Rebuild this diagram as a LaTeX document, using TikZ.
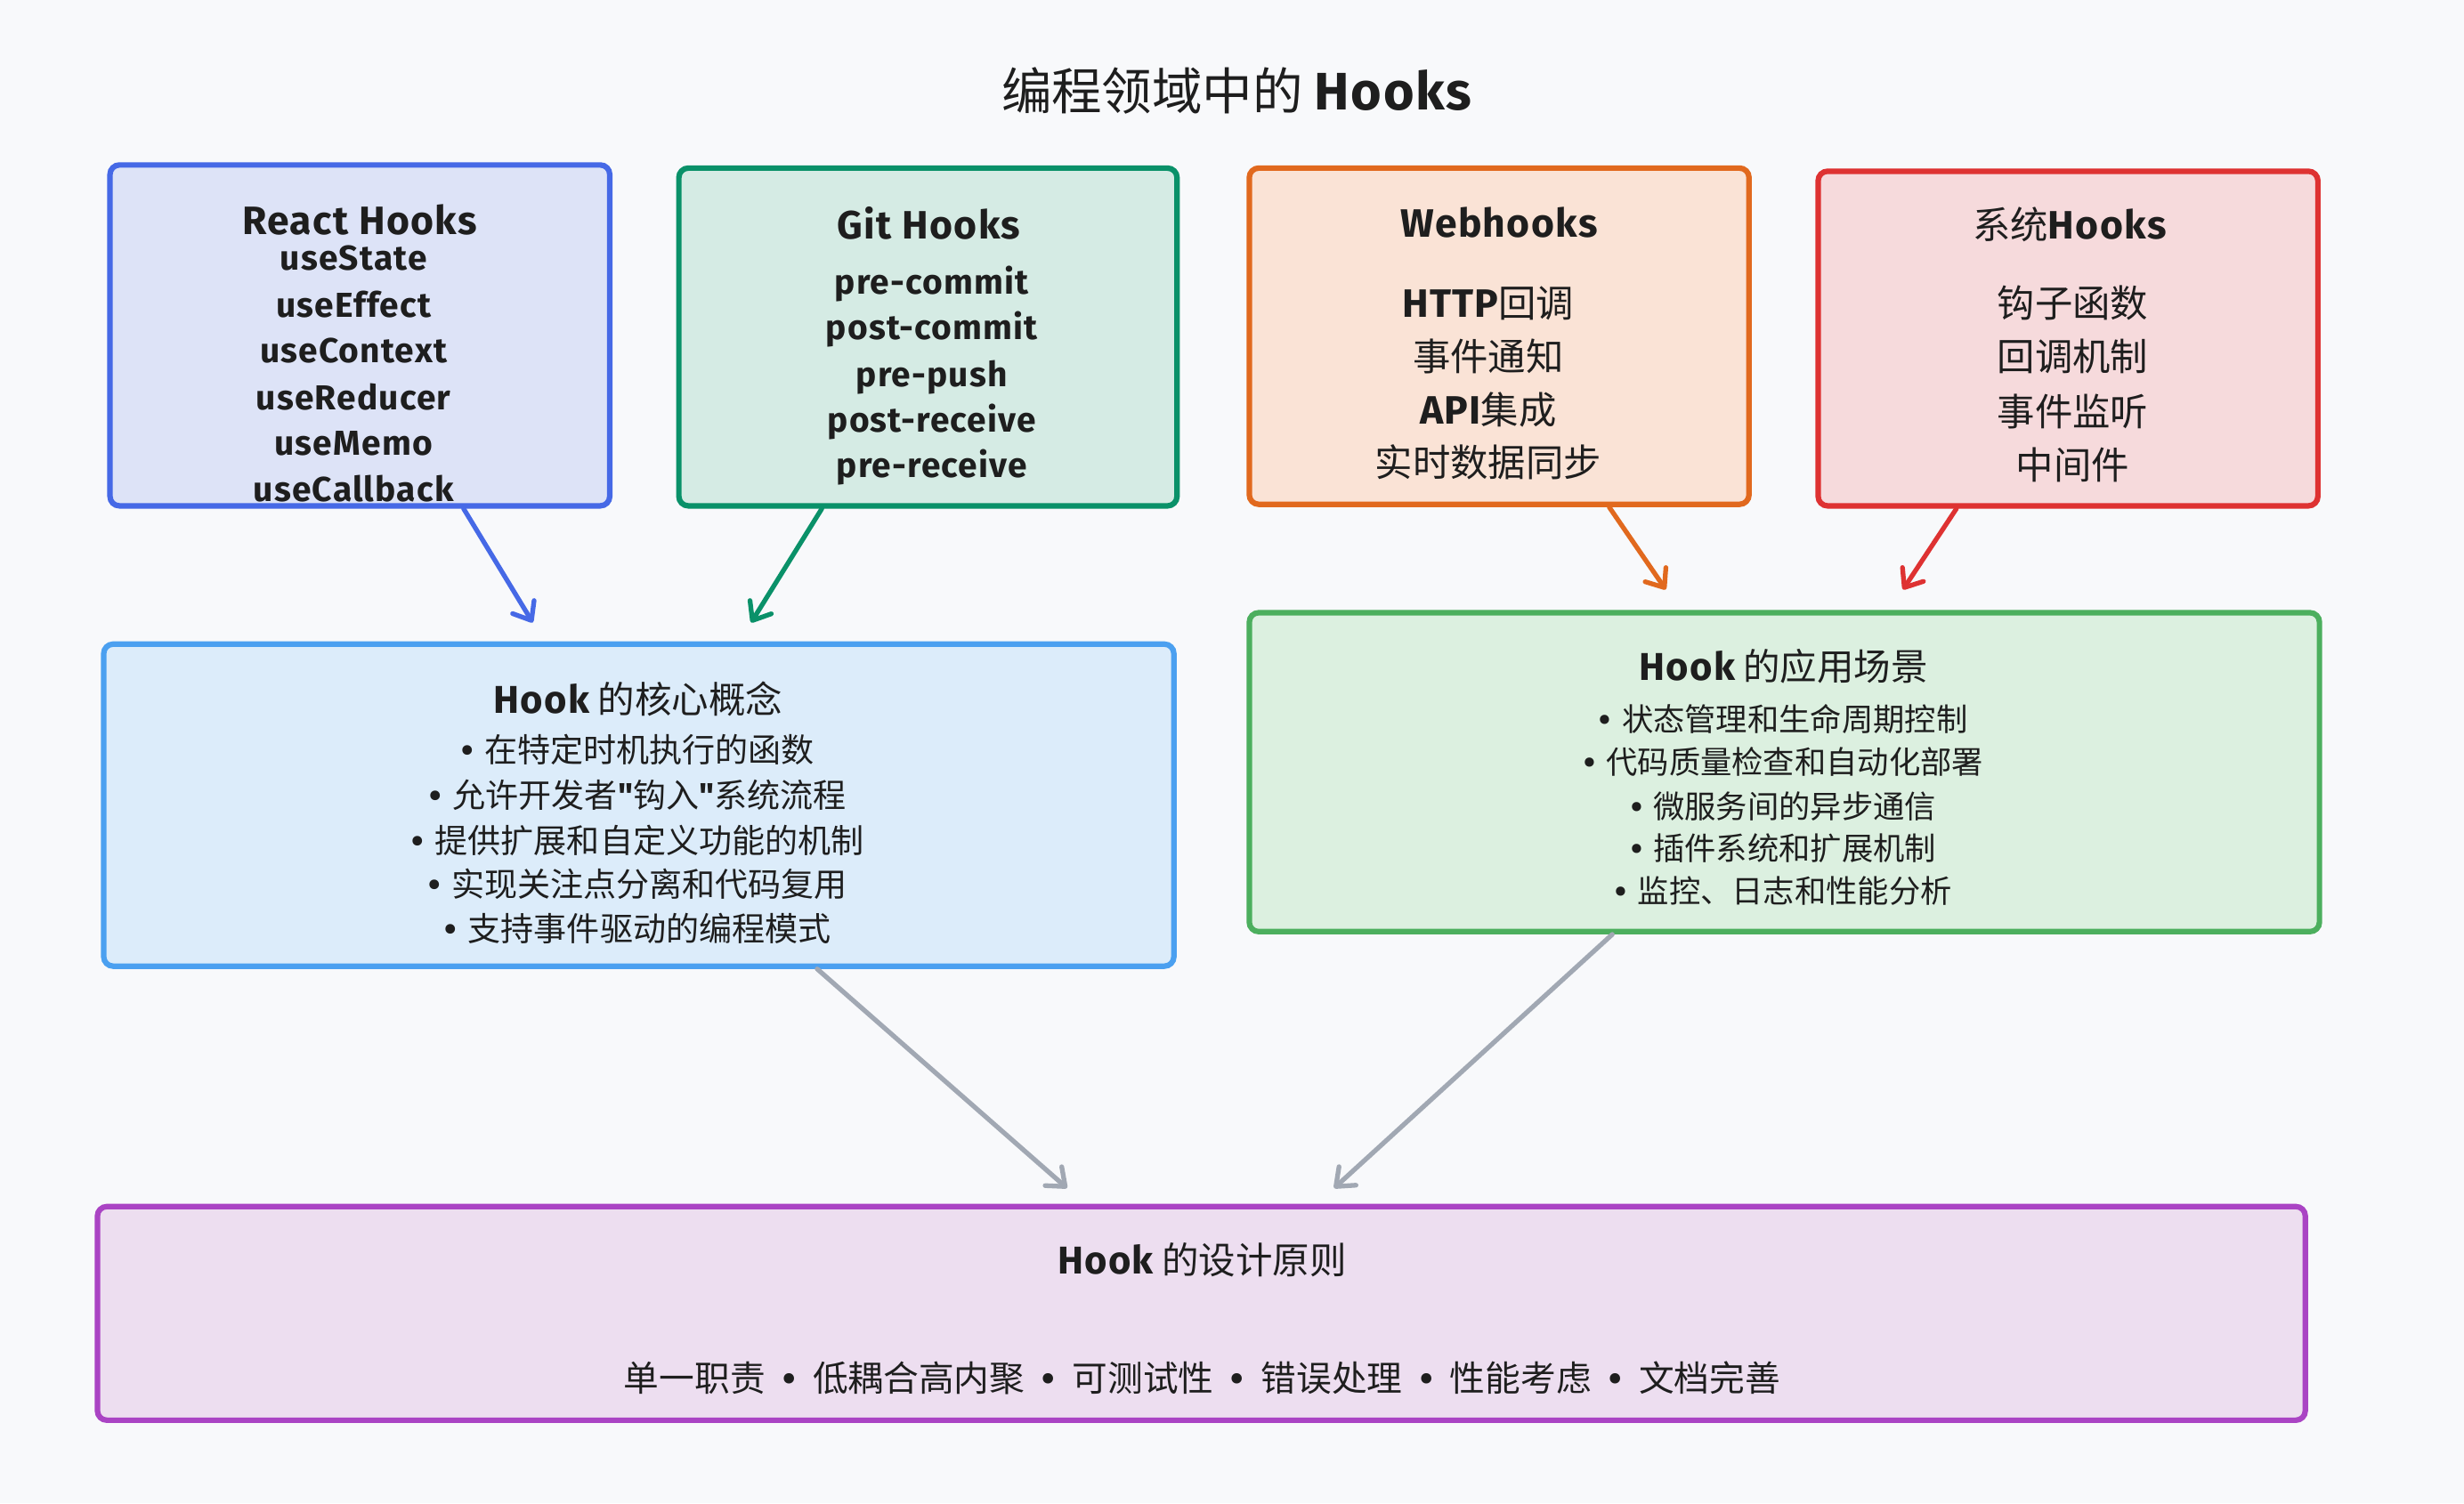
\documentclass[tikz,border=0pt]{standalone}
\usepackage{fontspec}
\setmainfont{Noto Sans CJK SC}
\newfontfamily\hand{Fira Sans}[Scale=1.05,LetterSpace=3]
\usetikzlibrary{arrows.meta}
\definecolor{bg}{HTML}{F8F9FB}
\definecolor{ink}{HTML}{1E1E1E}
\definecolor{reactD}{RGB}{70,105,230}\definecolor{reactF}{RGB}{221,227,247}
\definecolor{gitD}{RGB}{10,145,105}\definecolor{gitF}{RGB}{213,235,228}
\definecolor{webD}{RGB}{225,105,30}\definecolor{webF}{RGB}{250,227,214}
\definecolor{sysD}{RGB}{222,50,50}\definecolor{sysF}{RGB}{246,218,220}
\definecolor{coreD}{RGB}{75,160,240}\definecolor{coreF}{RGB}{220,236,250}
\definecolor{appD}{RGB}{76,175,94}\definecolor{appF}{RGB}{220,240,224}
\definecolor{priD}{RGB}{170,68,196}\definecolor{priF}{RGB}{237,222,240}
\definecolor{grayA}{RGB}{161,168,179}
\newcommand\hk[1]{{\hand\bfseries #1}}
\newcommand\bul{{\hand\bfseries •}\hspace{7pt}}
\newcommand\sep{\hspace{11pt}{\hand\bfseries •}\hspace{11pt}}
\newcommand\dq{{\hand\bfseries "}}
\begin{document}
\begin{tikzpicture}[x=1pt,y=-1pt,
  box/.style={draw, line width=3.5pt, rounded corners=6pt, inner sep=0pt},
  txt/.style={text=ink, inner sep=0pt, text height=8pt, text depth=1pt, anchor=center},
  fA/.style={font=\fontsize{32}{36}\selectfont, yshift=-8.6pt},
  fB/.style={font=\fontsize{24}{28}\selectfont, yshift=-5.6pt},
  fC/.style={font=\fontsize{23.5}{27}\selectfont, yshift=-5.4pt},
  fD/.style={font=\fontsize{21}{25}\selectfont, yshift=-4.5pt},
  fP/.style={font=\fontsize{22.5}{26}\selectfont, yshift=-5.1pt},
  fE/.style={font=\fontsize{21}{25}\selectfont, yshift=-4.5pt},
  fF/.style={font=\fontsize{20}{24}\selectfont, yshift=-4.1pt},
  conn/.style={line width=3pt, line cap=round, -{Straight Barb[length=10pt,width=16pt,round]}}]
\fill[bg] (0,0) rectangle (1568,957);
% boxes
\node[box, draw=reactD, fill=reactF, minimum width=318pt, minimum height=217pt] (react) at (229,213.5) {};
\node[box, draw=gitD, fill=gitF, minimum width=317pt, minimum height=215pt] (git) at (590.5,214.5) {};
\node[box, draw=webD, fill=webF, minimum width=318pt, minimum height=214pt] (web) at (954,214) {};
\node[box, draw=sysD, fill=sysF, minimum width=318pt, minimum height=213pt] (sys) at (1316,215.5) {};
\node[box, draw=coreD, fill=coreF, minimum width=681pt, minimum height=205pt] (core) at (406.5,512.5) {};
\node[box, draw=appD, fill=appF, minimum width=681pt, minimum height=203pt] (apps) at (1135.5,491.5) {};
\node[box, draw=priD, fill=priF, minimum width=1405pt, minimum height=136pt] (pri) at (764.5,836) {};
% title
\node[txt, fA] (title) at (787,58) {编程领域中的 \hk{Hooks}};
% React
\node[txt, fB] (reactT) at (229,140) {\hk{React Hooks}};
\foreach \t/\y [count=\i] in {useState/164,useEffect/194,useContext/223,useReducer/253,useMemo/282,useCallback/311}
  \node[txt, fD] (reactI\i) at (225,\y) {\hk{\t}};
% Git
\node[txt, fB] (gitT) at (591,143) {\hk{Git Hooks}};
\foreach \t/\y [count=\i] in {pre-commit/179,post-commit/208,pre-push/238,post-receive/267,pre-receive/296}
  \node[txt, fD] (gitI\i) at (593,\y) {\hk{\t}};
% Webhooks
\node[txt, fB] (webT) at (954,142) {\hk{Webhooks}};
\node[txt, fB] (webI1) at (947,193) {\hk{HTTP}回调};
\node[txt, fB] (webI2) at (947,227) {事件通知};
\node[txt, fB] (webI3) at (947,261) {\hk{API}集成};
\node[txt, fB] (webI4) at (947,294) {实时数据同步};
% System
\node[txt, fB] (sysT) at (1317,143) {系统\hk{Hooks}};
\foreach \t/\y [count=\i] in {钩子函数/193,回调机制/227,事件监听/262,中间件/296}
  \node[txt, fB] (sysI\i) at (1319,\y) {\t};
% core
\node[txt, fC] (coreT) at (406,445) {\hk{Hook} 的核心概念};
\node[txt, fE] (coreI1) at (406,477) {\bul 在特定时机执行的函数};
\node[txt, fE] (coreI2) at (406,506) {\bul 允许开发者\dq 钩入\dq 系统流程};
\node[txt, fE] (coreI3) at (406,535) {\bul 提供扩展和自定义功能的机制};
\node[txt, fE] (coreI4) at (406,563) {\bul 实现关注点分离和代码复用};
\node[txt, fE] (coreI5) at (406,591) {\bul 支持事件驱动的编程模式};
% apps
\node[txt, fC] (appsT) at (1135,424) {\hk{Hook} 的应用场景};
\foreach \t/\y [count=\i] in {状态管理和生命周期控制/458,代码质量检查和自动化部署/485,微服务间的异步通信/513,插件系统和扩展机制/540,监控、日志和性能分析/567}
  \node[txt, fF] (appsI\i) at (1135,\y) {\bul \t};
% principles
\node[txt, fC] (priT) at (765,802) {\hk{Hook} 的设计原则};
\node[txt, fP] (priI) at (765,877) {单一职责\sep 低耦合高内聚\sep 可测试性\sep 错误处理\sep 性能考虑\sep 文档完善};
% connectors
\draw[conn, reactD] ([xshift=66pt]react.south) -- ([xshift=-67.5pt,yshift=12pt]core.north);
\draw[conn, gitD] ([xshift=-67.5pt]git.south) -- ([xshift=71.5pt,yshift=12pt]core.north);
\draw[conn, webD] ([xshift=70pt]web.south) -- ([xshift=-75.5pt,yshift=13pt]apps.north);
\draw[conn, sysD] ([xshift=-71pt]sys.south) -- ([xshift=75.5pt,yshift=13pt]apps.north);
\draw[conn, grayA] ([xshift=113.5pt]core.south) -- ([xshift=-85.5pt,yshift=10pt]pri.north);
\draw[conn, grayA] ([xshift=-109.5pt]apps.south) -- ([xshift=84.5pt,yshift=10pt]pri.north);
\end{tikzpicture}
\end{document}
